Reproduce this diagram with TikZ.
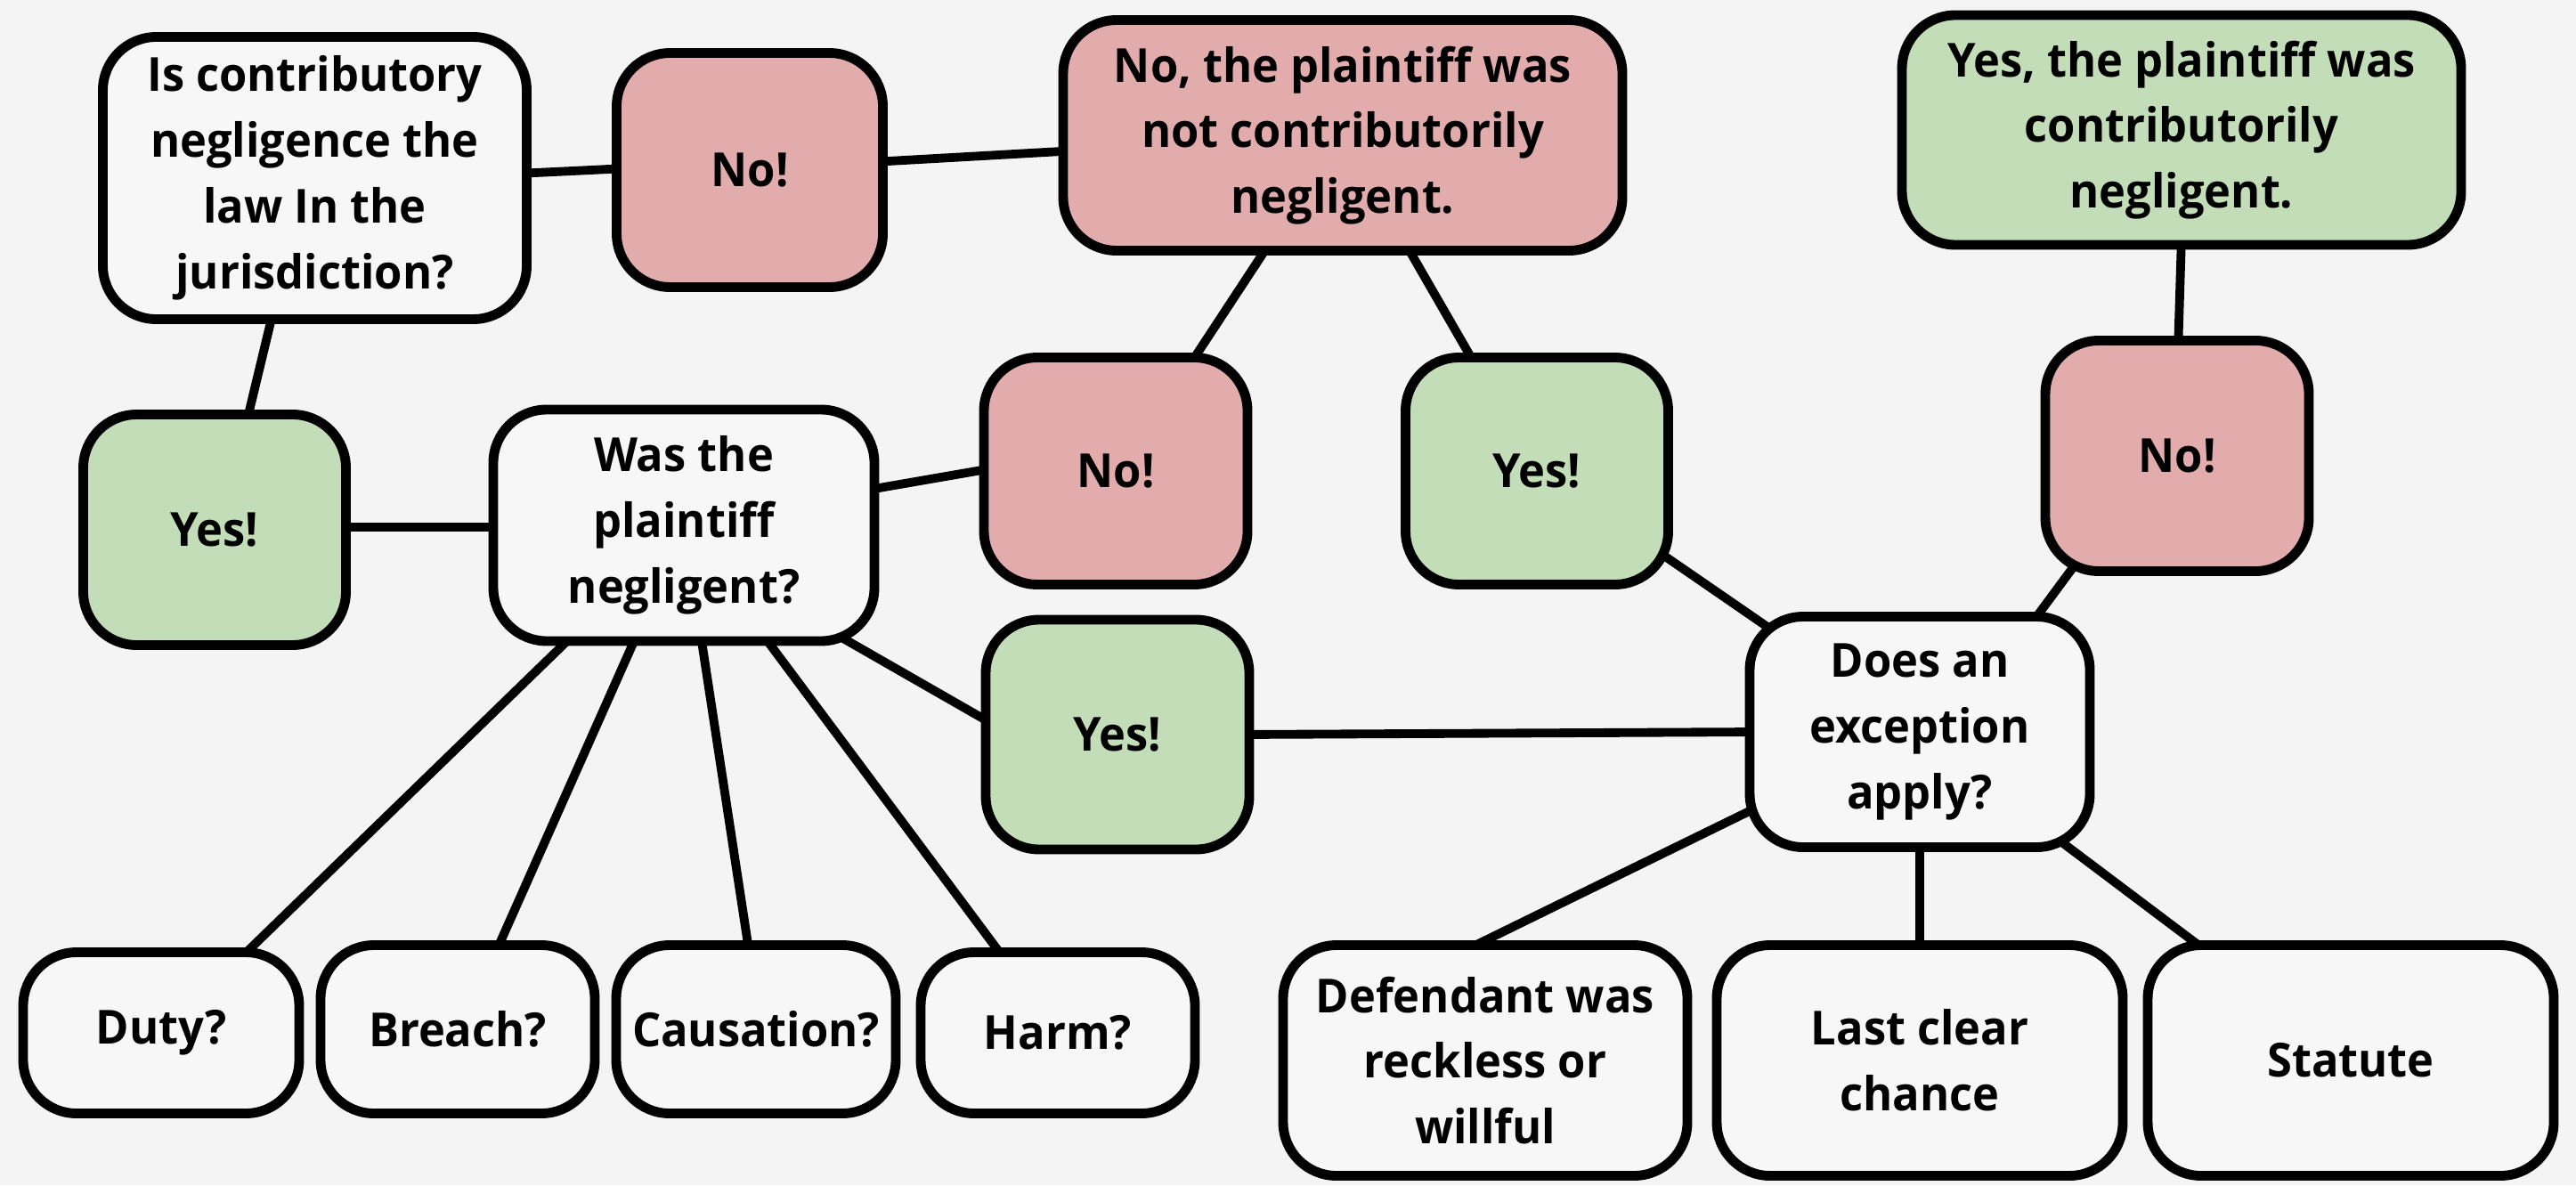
\documentclass[tikz,border=0pt]{standalone}
\usepackage{fontspec}
\setmainfont{Open Sans}[FakeStretch=0.96]
\usetikzlibrary{backgrounds}
\definecolor{bgc}{HTML}{F4F4F4}
\definecolor{wfill}{HTML}{F7F7F7}
\definecolor{pinkf}{HTML}{E2ACAC}
\definecolor{greenf}{HTML}{C3DDB8}
\begin{document}
\begin{tikzpicture}[
  box/.style={draw=black, line width=3.1pt, rounded corners=0.6cm, align=center,
    font=\fontsize{15}{21}\selectfont\bfseries, inner sep=0pt, text=black},
  wbox/.style={box, fill=wfill},
  pbox/.style={box, fill=pinkf},
  gbox/.style={box, fill=greenf},
  link/.style={line width=2.8pt, draw=black}
]
\useasboundingbox (0,0) rectangle (28.93,-13.31);
% nodes
\node[wbox, minimum width=4.76cm, minimum height=3.17cm] (q1) at (3.535,-2.00) {Is contributory\\negligence the\\law In the\\jurisdiction?};
\node[pbox, minimum width=2.99cm, minimum height=2.63cm] (no1) at (8.42,-1.91) {No!};
\node[pbox, minimum width=6.28cm, minimum height=2.59cm] (nores) at (15.08,-1.52) {No, the plaintiff was\\not contributorily\\negligent.};
\node[gbox, minimum width=6.28cm, minimum height=2.58cm] (yesres) at (24.50,-1.46) {Yes, the plaintiff was\\contributorily\\negligent.};
\node[gbox, minimum width=2.95cm, minimum height=2.59cm] (yes1) at (2.41,-5.95) {Yes!};
\node[wbox, minimum width=4.28cm, minimum height=2.60cm] (q2) at (7.68,-5.90) {Was the\\plaintiff\\negligent?};
\node[pbox, minimum width=2.96cm, minimum height=2.55cm] (no2) at (12.53,-5.29) {No!};
\node[gbox, minimum width=2.95cm, minimum height=2.55cm] (yes2) at (17.26,-5.29) {Yes!};
\node[pbox, minimum width=2.96cm, minimum height=2.59cm] (no3) at (24.45,-5.12) {No!};
\node[gbox, minimum width=2.96cm, minimum height=2.58cm] (yes3) at (12.55,-8.25) {Yes!};
\node[wbox, minimum width=3.82cm, minimum height=2.59cm] (q3) at (21.56,-8.22) {Does an\\exception\\apply?};
\node[wbox, minimum width=3.10cm, minimum height=1.81cm] (duty) at (1.81,-11.60) {Duty?};
\node[wbox, minimum width=3.08cm, minimum height=1.89cm] (breach) at (5.14,-11.56) {Breach?};
\node[wbox, minimum width=3.14cm, minimum height=1.89cm] (caus) at (8.49,-11.56) {Causation?};
\node[wbox, minimum width=3.08cm, minimum height=1.81cm] (harm) at (11.88,-11.60) {Harm?};
\node[wbox, minimum width=4.54cm, minimum height=2.59cm] (def) at (16.68,-11.91) {Defendant was\\reckless or\\willful};
\node[wbox, minimum width=4.56cm, minimum height=2.59cm] (last) at (21.56,-11.91) {Last clear\\chance};
\node[wbox, minimum width=4.56cm, minimum height=2.59cm] (stat) at (26.40,-11.91) {Statute};
% background and connectors
\begin{pgfonlayer}{background}
\fill[bgc] (0,0) rectangle (28.93,-13.31);
\draw[link] ([shift={(2.27,0.05)}]q1.center) -- ([shift={(-1.37,0.02)}]no1.center);
\draw[link] ([shift={(1.38,0.09)}]no1.center) -- ([shift={(-2.98,-0.17)}]nores.center);
\draw[link] ([shift={(-0.455,-1.45)}]q1.center) -- ([shift={(0.35,1.17)}]yes1.center);
\draw[link] ([shift={(1.34,0.03)}]yes1.center) -- ([shift={(-1.98,-0.02)}]q2.center);
\draw[link] ([shift={(2.02,0.39)}]q2.center) -- ([shift={(-1.33,0.04)}]no2.center);
\draw[link] ([shift={(-0.82,-1.21)}]nores.center) -- ([shift={(0.83,1.19)}]no2.center);
\draw[link] ([shift={(0.70,-1.21)}]nores.center) -- ([shift={(-0.69,1.19)}]yes2.center);
\draw[link] ([shift={(0,-1.19)}]yesres.center) -- ([shift={(0.01,1.17)}]no3.center);
\draw[link] ([shift={(-1.10,-1.16)}]no3.center) -- ([shift={(1.22,1.17)}]q3.center);
\draw[link] ([shift={(1.34,-0.89)}]yes2.center) -- ([shift={(-1.61,1.11)}]q3.center);
\draw[link] ([shift={(1.72,-1.23)}]q2.center) -- ([shift={(-1.37,0.10)}]yes3.center);
\draw[link] ([shift={(1.35,0)}]yes3.center) -- ([shift={(-1.76,0)}]q3.center);
\draw[link] ([shift={(-1.26,-1.25)}]q2.center) -- ([shift={(0.87,0.82)}]duty.center);
\draw[link] ([shift={(-0.51,-1.19)}]q2.center) -- ([shift={(0.39,0.78)}]breach.center);
\draw[link] ([shift={(0.18,-1.17)}]q2.center) -- ([shift={(-0.06,0.76)}]caus.center);
\draw[link] ([shift={(0.88,-1.22)}]q2.center) -- ([shift={(-0.57,0.79)}]harm.center);
\draw[link] ([shift={(-1.73,-0.80)}]q3.center) -- ([shift={(-0.20,1.25)}]def.center);
\draw[link] ([shift={(0,-1.13)}]q3.center) -- ([shift={(0,1.11)}]last.center);
\draw[link] ([shift={(1.45,-1.13)}]q3.center) -- ([shift={(-1.57,1.19)}]stat.center);
\end{pgfonlayer}
\end{tikzpicture}
\end{document}
